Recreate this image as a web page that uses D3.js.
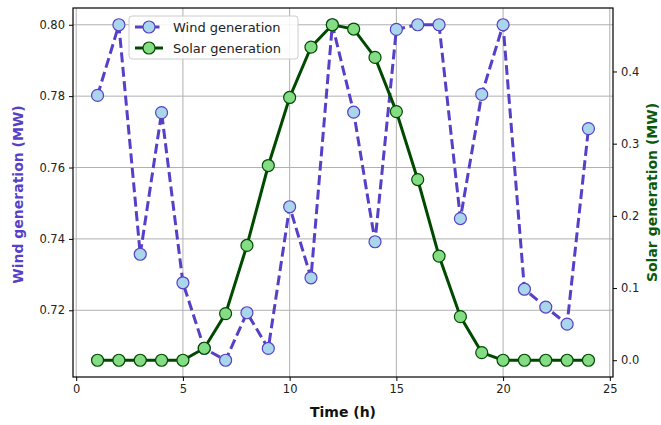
<!DOCTYPE html>
<html>
<head>
<meta charset="utf-8">
<script src="https://cdn.jsdelivr.net/npm/d3@7"></script>
<style>
  html, body { margin: 0; padding: 0; background: #fff; }
  svg { display: block; font-family: "DejaVu Sans", sans-serif; }
</style>
</head>
<body>
<svg id="chart" width="661" height="425"></svg>
<script>
// Hourly generation profiles
const hours = [1, 2, 3, 4, 5, 6, 7, 8, 9, 10, 11, 12, 13, 14, 15, 16, 17, 18, 19, 20, 21, 22, 23, 24];
const windMW = [0.7802, 0.8000, 0.7357, 0.7754, 0.7277, 0.7093, 0.7060, 0.7193, 0.7093, 0.7490,
                0.7291, 0.8000, 0.7755, 0.7392, 0.7987, 0.8000, 0.8000, 0.7457, 0.7805, 0.8000,
                0.7259, 0.7209, 0.7161, 0.7709];
const solarMW = [0, 0, 0, 0, 0, 0.0166, 0.0646, 0.159, 0.2697, 0.364,
                 0.4337, 0.4647, 0.4588, 0.4195, 0.3444, 0.2503, 0.1443, 0.0604, 0.0106, 0,
                 0, 0, 0, 0];
const xTicks = [0, 5, 10, 15, 20, 25];
const windTicks = [0.72, 0.74, 0.76, 0.78, 0.80];
const solarTicks = [0.0, 0.1, 0.2, 0.3, 0.4];

const windColor = "#5640c8", windFace = "#a9d6ea";
const solarColor = "#004a00", solarFace = "#84dc84";
const labelSolar = "#0b5a0b";

const svg = d3.select("#chart");
const L = 73, R = 613, T = 8, B = 377;

// 5% padding around the data extents
function padded(vals) {
  const [a, b] = d3.extent(vals);
  const m = (b - a) * 0.05;
  return [a - m, b + m];
}
const x = d3.scaleLinear().domain(padded(hours)).range([L, R]);
const yW = d3.scaleLinear().domain(padded(windMW)).range([B, T]);
const yS = d3.scaleLinear().domain(padded(solarMW)).range([B, T]);

// grid
const grid = svg.append("g").attr("stroke", "#b0b0b0").attr("stroke-width", 1);
xTicks.forEach(t => grid.append("line")
  .attr("x1", x(t)).attr("x2", x(t)).attr("y1", T).attr("y2", B));
windTicks.forEach(t => grid.append("line")
  .attr("x1", L).attr("x2", R).attr("y1", yW(t)).attr("y2", yW(t)));

// axes
const axB = d3.axisBottom(x).tickValues(xTicks).tickFormat(d3.format("d")).tickSizeOuter(0).tickSize(4).tickPadding(4);
const axL = d3.axisLeft(yW).tickValues(windTicks).tickFormat(d3.format(".2f")).tickSizeOuter(0).tickSize(4).tickPadding(4);
const axR = d3.axisRight(yS).tickValues(solarTicks).tickFormat(d3.format(".1f")).tickSizeOuter(0).tickSize(4).tickPadding(4);

function styleAxis(g) {
  g.select(".domain").remove();
  g.selectAll(".tick line").attr("stroke", "#000").attr("stroke-width", 1);
  g.selectAll(".tick text").attr("fill", "#222").attr("font-size", 11.5)
    .attr("font-family", "DejaVu Sans");
}
svg.append("g").attr("transform", `translate(0,${B})`).call(axB).call(styleAxis);
svg.append("g").attr("transform", `translate(${L},0)`).call(axL).call(styleAxis);
svg.append("g").attr("transform", `translate(${R},0)`).call(axR).call(styleAxis);

// frame
svg.append("rect").attr("x", L).attr("y", T).attr("width", R - L).attr("height", B - T)
  .attr("fill", "none").attr("stroke", "#000").attr("stroke-width", 1.2);

// wind series
const windLine = d3.line().x((d, i) => x(hours[i])).y(d => yW(d));
svg.append("path").datum(windMW).attr("d", windLine)
  .attr("fill", "none").attr("stroke", windColor).attr("stroke-width", 3)
  .attr("stroke-dasharray", "10,4.5");
svg.append("g").selectAll("circle").data(windMW).join("circle")
  .attr("cx", (d, i) => x(hours[i])).attr("cy", d => yW(d)).attr("r", 6)
  .attr("fill", windFace).attr("stroke", windColor).attr("stroke-width", 1.2);

// solar series
const solarLine = d3.line().x((d, i) => x(hours[i])).y(d => yS(d));
svg.append("path").datum(solarMW).attr("d", solarLine)
  .attr("fill", "none").attr("stroke", solarColor).attr("stroke-width", 3);
svg.append("g").selectAll("circle").data(solarMW).join("circle")
  .attr("cx", (d, i) => x(hours[i])).attr("cy", d => yS(d)).attr("r", 6)
  .attr("fill", solarFace).attr("stroke", solarColor).attr("stroke-width", 1.2);

// axis titles
svg.append("text").attr("x", (L + R) / 2).attr("y", 417).attr("text-anchor", "middle")
  .attr("font-weight", "bold").attr("font-size", 14).attr("fill", "#111").text("Time (h)");
svg.append("text").attr("transform", `translate(23,${(T + B) / 2 + 2}) rotate(-90)`)
  .attr("text-anchor", "middle").attr("font-weight", "bold").attr("font-size", 14)
  .attr("fill", windColor).text("Wind generation (MW)");
svg.append("text").attr("transform", `translate(657,${(T + B) / 2}) rotate(-90)`)
  .attr("text-anchor", "middle").attr("font-weight", "bold").attr("font-size", 14)
  .attr("fill", labelSolar).text("Solar generation (MW)");

// legend
const lg = svg.append("g").attr("transform", "translate(129,16)");
lg.append("rect").attr("width", 169).attr("height", 43).attr("rx", 3)
  .attr("fill", "#fff").attr("fill-opacity", 0.85).attr("stroke", "#cccccc");
const entries = [
  { label: "Wind generation", color: windColor, face: windFace, dash: "10,4.5" },
  { label: "Solar generation", color: solarColor, face: solarFace, dash: null }
];
entries.forEach((e, i) => {
  const cy = 11 + i * 21;
  lg.append("line").attr("x1", 6).attr("x2", 34).attr("y1", cy).attr("y2", cy)
    .attr("stroke", e.color).attr("stroke-width", 3).attr("stroke-dasharray", e.dash);
  lg.append("circle").attr("cx", 20).attr("cy", cy).attr("r", 6)
    .attr("fill", e.face).attr("stroke", e.color).attr("stroke-width", 1.2);
  lg.append("text").attr("x", 44).attr("y", cy + 4.5).attr("font-size", 13)
    .attr("fill", "#222").text(e.label);
});
</script>
</body>
</html>
